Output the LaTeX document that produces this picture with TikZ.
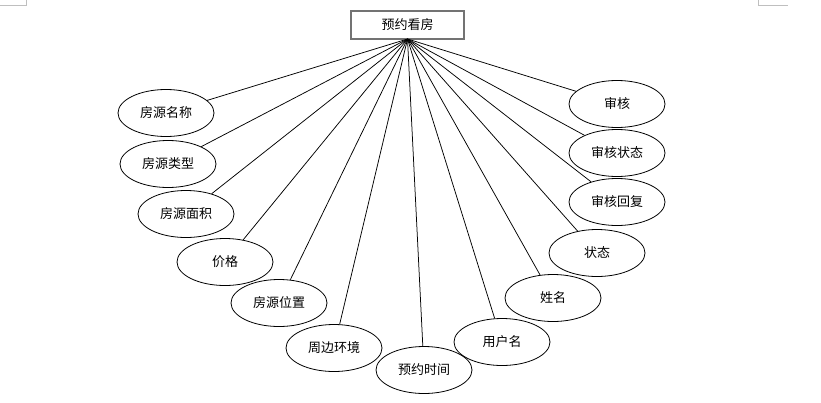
\documentclass[tikz,border=0pt]{standalone}
\usepackage{fontspec}
\setmainfont{Noto Sans CJK SC}
\usetikzlibrary{shapes.geometric}
\begin{document}
\begin{tikzpicture}[x=1pt,y=-1pt,
  attr/.style={ellipse, draw, line width=0.8pt, minimum width=96pt, minimum height=47pt, inner sep=0pt, font=\fontsize{13}{13}\selectfont},
  ent/.style={rectangle, draw=black!55, line width=1.6pt, minimum width=113pt, minimum height=28pt, inner sep=0pt, font=\fontsize{13}{13}\selectfont},
  conn/.style={line width=0.75pt},
  cornermark/.style={draw=black!25, line width=0.8pt}]
\path[use as bounding box] (0,0) rectangle (821,402);
% page corner marks
\coordinate (m1a) at (0,5); \coordinate (m1b) at (26,5); \coordinate (m1c) at (26,0);
\draw[cornermark] (m1a) -- (m1b) -- (m1c);
\coordinate (m2a) at (758,0); \coordinate (m2b) at (758,5); \coordinate (m2c) at (788,5);
\draw[cornermark] (m2a) -- (m2b) -- (m2c);

\node[ent] (top) at (407.5,25) {预约看房};
\coordinate (hub) at (407.5,39);

\node[attr] (a1) at (166,113) {房源名称};
\node[attr] (a2) at (168,164) {房源类型};
\node[attr] (a3) at (186,214) {房源面积};
\node[attr] (a4) at (225,262) {价格};
\node[attr] (a5) at (279,303) {房源位置};
\node[attr] (a6) at (334,348) {周边环境};
\node[attr] (a7) at (424,370) {预约时间};
\node[attr] (a8) at (502,342) {用户名};
\node[attr] (a9) at (553,298) {姓名};
\node[attr] (a10) at (597,253) {状态};
\node[attr] (a11) at (617,202) {审核回复};
\node[attr] (a12) at (617,153) {审核状态};
\node[attr] (a13) at (617,104) {审核};

\foreach \n in {a1,a2,a3,a4,a5,a6,a7,a8,a9,a10,a11,a12,a13}
  \draw[conn] (hub) -- (\n);
\end{tikzpicture}
\end{document}
